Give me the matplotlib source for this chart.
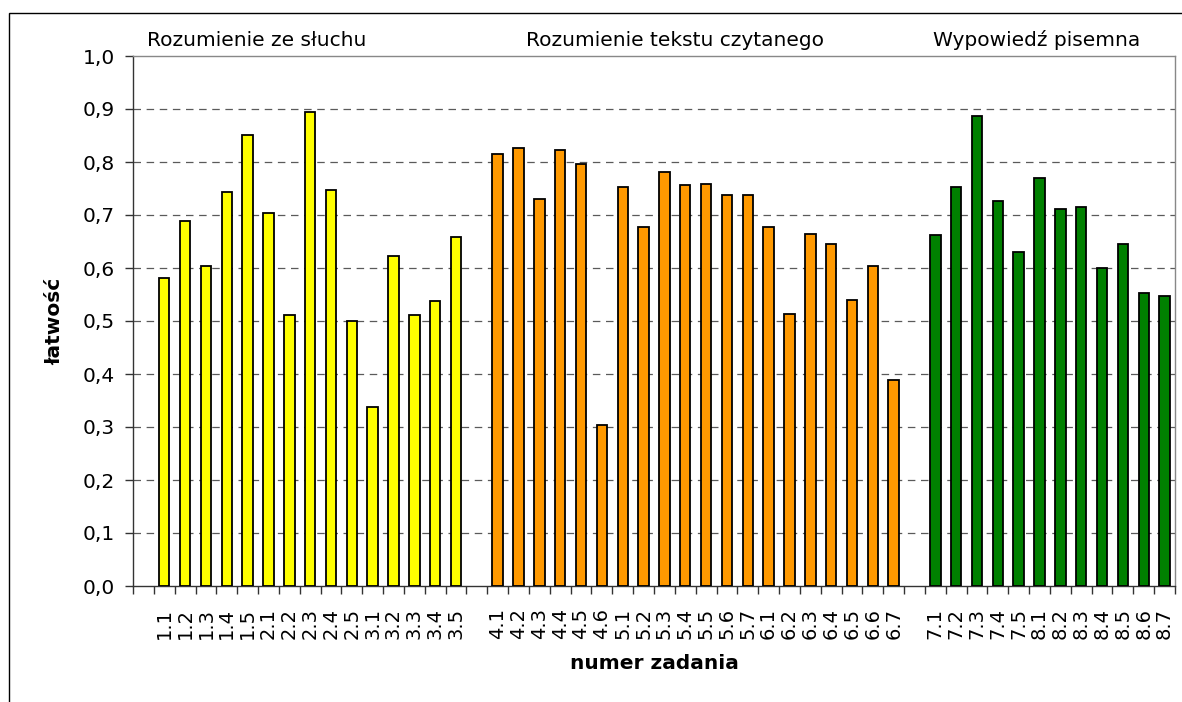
import matplotlib
matplotlib.use("Agg")
import matplotlib.pyplot as plt
from matplotlib.patches import Rectangle
from matplotlib.ticker import FixedLocator, FuncFormatter

# group 1 - listening
labels_listen = ["1.1", "1.2", "1.3", "1.4", "1.5", "2.1", "2.2", "2.3", "2.4", "2.5",
                 "3.1", "3.2", "3.3", "3.4", "3.5"]
values_listen = [0.581, 0.688, 0.604, 0.744, 0.851, 0.704, 0.511, 0.894, 0.748, 0.500,
                 0.338, 0.623, 0.511, 0.537, 0.658]

# group 2 - reading
labels_read = ["4.1", "4.2", "4.3", "4.4", "4.5", "4.6", "5.1", "5.2", "5.3", "5.4",
               "5.5", "5.6", "5.7", "6.1", "6.2", "6.3", "6.4", "6.5", "6.6", "6.7"]
values_read = [0.815, 0.827, 0.730, 0.823, 0.796, 0.304, 0.752, 0.677, 0.781, 0.756,
               0.759, 0.737, 0.737, 0.677, 0.514, 0.665, 0.646, 0.540, 0.604, 0.389]

# group 3 - writing
labels_write = ["7.1", "7.2", "7.3", "7.4", "7.5", "8.1", "8.2", "8.3", "8.4", "8.5",
                "8.6", "8.7"]
values_write = [0.662, 0.752, 0.886, 0.726, 0.631, 0.770, 0.711, 0.715, 0.600, 0.646,
                0.552, 0.548]

group_titles = ["Rozumienie ze słuchu", "Rozumienie tekstu czytanego", "Wypowiedź pisemna"]
colors = ["#FFFF00", "#FF9900", "#008000"]

groups = [(labels_listen, values_listen), (labels_read, values_read), (labels_write, values_write)]

fig = plt.figure(figsize=(11.82, 7.02), dpi=100)
ax = fig.add_axes([133 / 1182, 1 - 586 / 702, 1042 / 1182, 530 / 702])

# categories: one empty slot before each group
all_labels = []
pos = 0
for (labels, values), color in zip(groups, colors):
    all_labels.append("")
    pos += 1
    xs = list(range(pos, pos + len(labels)))
    ax.bar(xs, values, width=0.5, color=color, edgecolor="black", linewidth=1.3, zorder=3)
    all_labels.extend(labels)
    pos += len(labels)

n = len(all_labels)
ax.set_xlim(-0.5, n - 0.5)
ax.set_ylim(0, 1.0)

# y axis
ax.set_yticks([i / 10 for i in range(11)])
ax.yaxis.set_major_formatter(FuncFormatter(lambda v, p: f"{v:.1f}".replace(".", ",")))
ax.tick_params(axis="y", direction="out", length=6, width=1, color="#333333",
               labelsize=14.5, pad=7)
for v in [i / 10 for i in range(1, 10)]:
    ax.axhline(v, color="#5a5a5a", linewidth=0.9, linestyle=(0, (6, 4.5)), zorder=1)

# x axis: labels at centres, ticks at boundaries
ax.set_xticks(range(n))
ax.set_xticklabels(all_labels, rotation=90)
ax.tick_params(axis="x", which="major", length=0, labelsize=14, pad=16)
ax.xaxis.set_minor_locator(FixedLocator([k - 0.5 for k in range(n + 1)]))
ax.tick_params(axis="x", which="minor", direction="out", length=6, width=1, color="#333333")

ax.spines["left"].set_color("#333333")
ax.spines["bottom"].set_color("#333333")
ax.spines["top"].set_color("#888888")
ax.spines["right"].set_color("#888888")
for s in ax.spines.values():
    s.set_linewidth(1.0)

ax.set_xlabel("numer zadania", fontsize=14.5, fontweight="bold")
ax.xaxis.set_label_coords(0.5, -0.128)
ax.set_ylabel("łatwość", fontsize=14.5, fontweight="bold")
ax.yaxis.set_label_coords(-0.066, 0.5)

for title, xf in zip(group_titles, [0.119, 0.520, 0.867]):
    ax.text(xf, 1.018, title, transform=ax.transAxes, ha="center", va="baseline",
            fontsize=14.5)

# outer chart frame (cropped at right and bottom)
fig.add_artist(Rectangle((9 / 1182, -0.1), 1.2, 1.1 - 13 / 702, transform=fig.transFigure,
                         fill=False, edgecolor="black", linewidth=1.0))

fig.savefig("out.png", dpi=100)
